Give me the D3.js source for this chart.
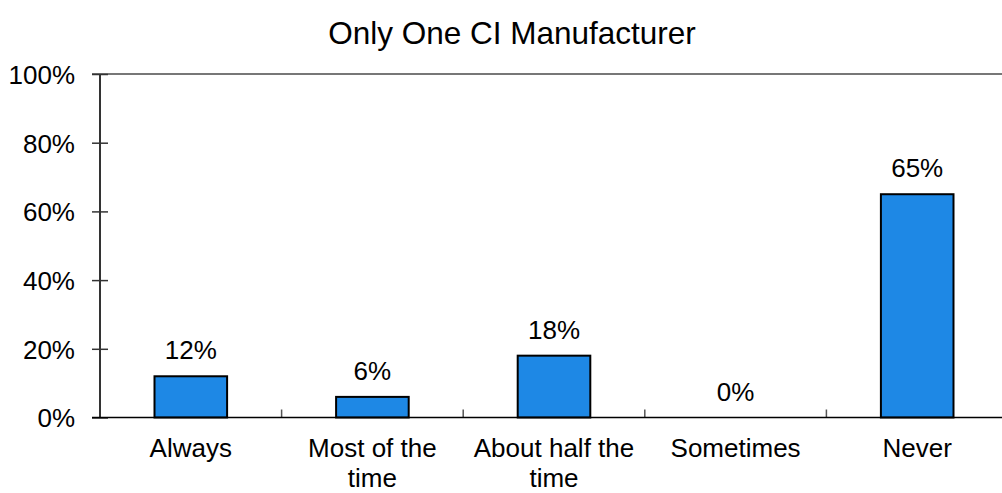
<!DOCTYPE html>
<html>
<head>
<meta charset="utf-8">
<script src="https://cdn.jsdelivr.net/npm/d3@7"></script>
<style>
  body { margin: 0; background: #fff; }
  svg { display: block; font-family: "Liberation Sans", Arial, sans-serif; }
</style>
</head>
<body>
<div id="chart"></div>
<script>
// chart data
var categories = ["Always", "Most of the time", "About half the time", "Sometimes", "Never"];
var catLines = [["Always"], ["Most of the", "time"], ["About half the", "time"], ["Sometimes"], ["Never"]];
var values = [12, 6, 18, 0, 65];
var yTicks = [0, 20, 40, 60, 80, 100];

var W = 1002, H = 493;
var margin = {top: 74, left: 100, bottom: 75.5};

var svg = d3.select("#chart")
    .append("svg")
    .attr("width", W)
    .attr("height", H);

// plot runs a little past the right edge, as in the original
var x = d3.scaleBand()
    .domain(categories)
    .range([margin.left, margin.left + 5 * 181.6]);

var y = d3.scaleLinear()
    .domain([0, 100])
    .range([H - margin.bottom, margin.top]);

// title
svg.append("text")
    .attr("x", 512)
    .attr("y", 44)
    .attr("text-anchor", "middle")
    .style("font-size", "31.5px")
    .text("Only One CI Manufacturer");

// top border line
svg.append("line")
    .attr("x1", margin.left - 8).attr("x2", W)
    .attr("y1", y(100)).attr("y2", y(100))
    .attr("stroke", "#777").attr("stroke-width", 2);

// y axis
var yAxis = svg.append("g")
    .attr("transform", "translate(" + margin.left + ",0)")
    .call(d3.axisLeft(y).tickValues(yTicks).tickSize(0).tickPadding(25)
        .tickFormat(function(d) { return d + "%"; }));
yAxis.select(".domain").remove();
yAxis.selectAll("text").style("font-size", "26px").attr("fill", "#000").attr("dy", "0.36em");
yAxis.selectAll(".tick").append("line")
    .attr("x1", -8).attr("x2", 8)
    .attr("stroke", "#333").attr("stroke-width", 1.5);
svg.append("line")
    .attr("x1", margin.left).attr("x2", margin.left)
    .attr("y1", y(100)).attr("y2", y(0))
    .attr("stroke", "#333").attr("stroke-width", 2);

// x ticks at category boundaries
var bounds = categories.slice(1).map(function(c) { return x(c); });
svg.selectAll(".xtick")
    .data(bounds)
    .enter()
    .append("line")
    .attr("x1", function(d) { return d; })
    .attr("x2", function(d) { return d; })
    .attr("y1", y(0)).attr("y2", y(0) - 8)
    .attr("stroke", "#555").attr("stroke-width", 1.5);

// bars
var barW = 72.6;
svg.selectAll("rect.bar")
    .data(values.map(function(v, i) { return {c: categories[i], v: v}; }).filter(function(d) { return d.v > 0; }))
    .enter()
    .append("rect")
    .attr("class", "bar")
    .attr("x", function(d) { return x(d.c) + x.bandwidth() / 2 - barW / 2; })
    .attr("y", function(d) { return y(d.v); })
    .attr("width", barW)
    .attr("height", function(d) { return y(0) - y(d.v); })
    .attr("fill", "#1e88e5")
    .attr("stroke", "#000")
    .attr("stroke-width", 2);

// baseline
svg.append("line")
    .attr("x1", margin.left - 8).attr("x2", W)
    .attr("y1", y(0)).attr("y2", y(0))
    .attr("stroke", "#000").attr("stroke-width", 1.5);

// value labels
svg.selectAll(".vlabel")
    .data(values)
    .enter()
    .append("text")
    .attr("x", function(d, i) { return x(categories[i]) + x.bandwidth() / 2; })
    .attr("y", function(d) { return y(d) - 17; })
    .attr("text-anchor", "middle")
    .style("font-size", "26px")
    .text(function(d) { return d + "%"; });

// category labels
var cl = svg.selectAll(".clabel")
    .data(catLines)
    .enter()
    .append("text")
    .attr("text-anchor", "middle")
    .style("font-size", "26px");
cl.selectAll("tspan")
    .data(function(d, i) { return d.map(function(t) { return {t: t, i: i}; }); })
    .enter()
    .append("tspan")
    .attr("x", function(d) { return x(categories[d.i]) + x.bandwidth() / 2; })
    .attr("y", function(d, j) { return 457 + j * 30; })
    .text(function(d) { return d.t; });
</script>
</body>
</html>
